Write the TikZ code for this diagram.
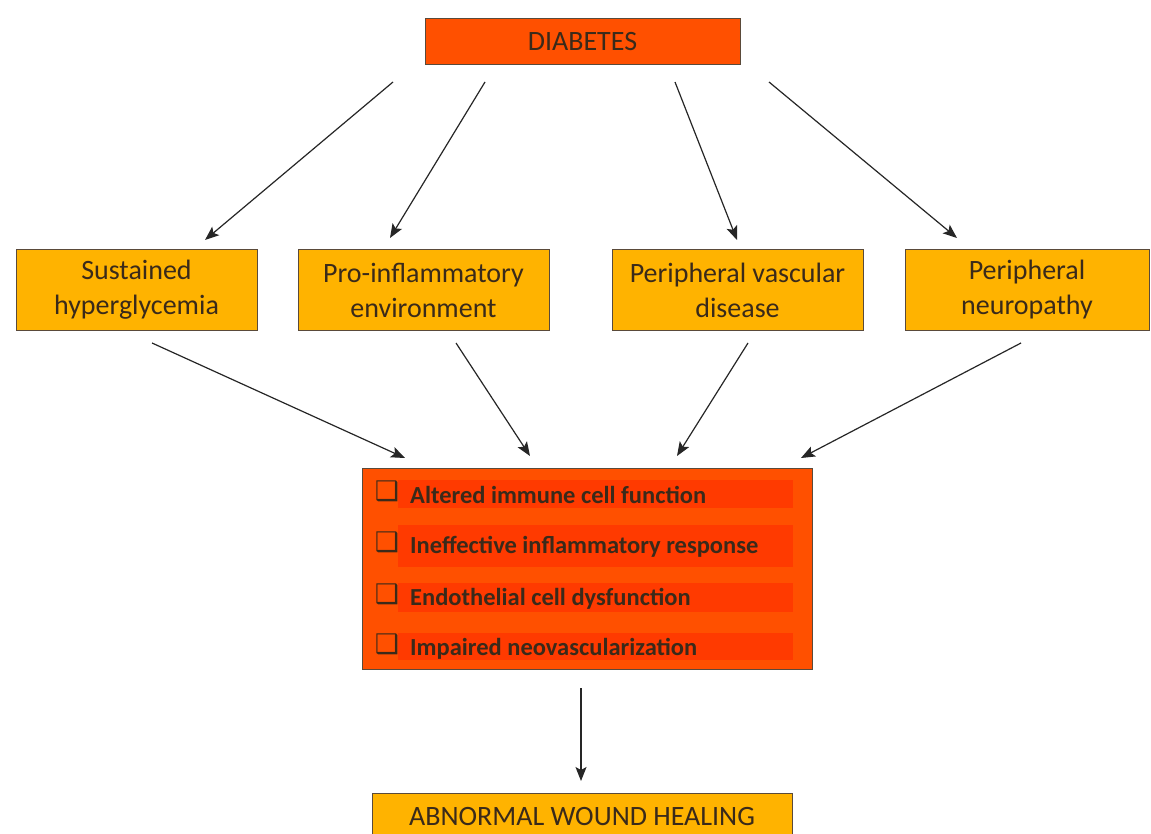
\documentclass[tikz,border=0pt]{standalone}
\usepackage{fontspec}
\setmainfont{Carlito}
\newfontfamily\symfont{DejaVu Sans}
\usetikzlibrary{arrows.meta,calc}
\definecolor{redor}{HTML}{FF5000}
\definecolor{amber}{HTML}{FFB300}
\definecolor{bandc}{HTML}{FF3A00}
\definecolor{txt}{HTML}{3A2A1A}
\definecolor{edge}{HTML}{5A4A3A}
\begin{document}
\begin{tikzpicture}[x=1pt,y=-1pt,
 box/.style={draw=edge,line width=1pt,inner sep=0pt,text=txt,font=\fontsize{28}{35}\selectfont,align=center},
 arr/.style={-{Stealth[length=14pt,width=11pt,inset=3pt]},line width=1.2pt,draw=black!85},
 item/.style={anchor=base west,inner sep=0pt,text=txt,font=\fontsize{24.5}{28}\selectfont\bfseries},
 chk/.style={inner sep=0pt,text=txt,font=\symfont\fontsize{27}{27}\selectfont},
 bandbox/.style={fill=bandc,draw=none}
 ]
\useasboundingbox (0,0) rectangle (1151,834);
\fill[white] (0,0) rectangle (1151,834);

\node[box,fill=redor,minimum width=315pt,minimum height=46pt] (diab) at (582.5,42) {DIABETES};

\node[box,fill=amber,minimum width=241pt,minimum height=81pt] (sus) at (136.5,290) {Sustained\\hyperglycemia};
\node[box,fill=amber,minimum width=251pt,minimum height=81pt] (pro) at (423.5,290) {Pro-inflammatory\\environment};
\node[box,fill=amber,minimum width=251pt,minimum height=81pt] (pvd) at (737.5,290) {Peripheral vascular\\disease};
\node[box,fill=amber,minimum width=244pt,minimum height=81pt] (neu) at (1027,290) {Peripheral\\neuropathy};

\node[box,fill=redor,minimum width=450pt,minimum height=201pt] (mid) at (587,568.5) {};
\fill[bandbox] (398,480) rectangle (793,508);
\fill[bandbox] (398,525) rectangle (793,567);
\fill[bandbox] (398,583) rectangle (793,612);
\fill[bandbox] (398,633) rectangle (793,660);
\node[chk] (c1) at (387,491) {❑};
\node[chk] (c2) at (387,542) {❑};
\node[chk] (c3) at (387,594) {❑};
\node[chk] (c4) at (387,644) {❑};
\node[item] (t1) at (410,503) {Altered immune cell function};
\node[item] (t2) at (410,553) {Ineffective inflammatory response};
\node[item] (t3) at (410,605) {Endothelial cell dysfunction};
\node[item] (t4) at (410,655) {Impaired neovascularization};

\node[box,fill=amber,minimum width=420pt,text height=32pt,text depth=30pt,anchor=base] (heal) at (582,825) {ABNORMAL WOUND HEALING};

\coordinate (a1s) at (393,82);  \coordinate (a1e) at (205,240);
\coordinate (a2s) at (485,82);  \coordinate (a2e) at (390,238);
\coordinate (a3s) at (675,82);  \coordinate (a3e) at (737,240);
\coordinate (a4s) at (769,82);  \coordinate (a4e) at (957,238);
\coordinate (b1s) at (152,343); \coordinate (b1e) at (405,458);
\coordinate (b2s) at (456,343); \coordinate (b2e) at (530,456);
\coordinate (b3s) at (748,343); \coordinate (b3e) at (677,456);
\coordinate (b4s) at (1021,343);\coordinate (b4e) at (801,458);
\coordinate (cs) at (581,688);  \coordinate (ce) at (581,781);

\draw[arr] (a1s) -- (a1e);
\draw[arr] (a2s) -- (a2e);
\draw[arr] (a3s) -- (a3e);
\draw[arr] (a4s) -- (a4e);
\draw[arr] (b1s) -- (b1e);
\draw[arr] (b2s) -- (b2e);
\draw[arr] (b3s) -- (b3e);
\draw[arr] (b4s) -- (b4e);
\draw[arr] (cs) -- (ce);
\end{tikzpicture}
\end{document}
